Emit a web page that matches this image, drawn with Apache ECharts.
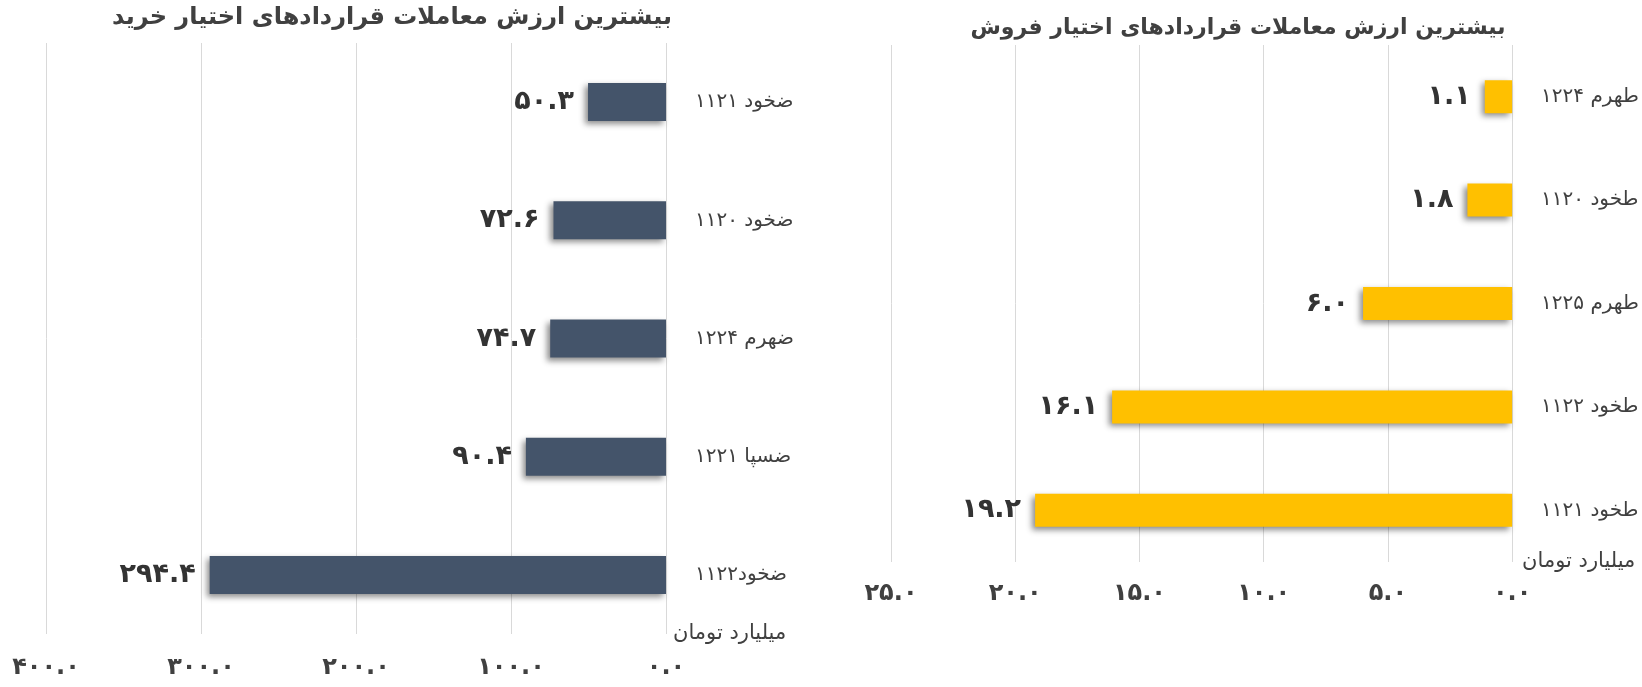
<!DOCTYPE html>
<html>
<head>
<meta charset="utf-8">
<script src="https://cdn.jsdelivr.net/npm/echarts@6/dist/echarts.min.js"></script>
<style>
  html, body { margin: 0; padding: 0; background: #fff; }
  #chart { width: 1642px; height: 687px; }
</style>
</head>
<body>
<div id="chart"></div>
<script>
// خرید (call options)
var buyTitle = 'بیشترین ارزش معاملات قراردادهای اختیار خرید';
var buyCategories = ['ضخود ۱۱۲۱', 'ضخود ۱۱۲۰', 'ضهرم ۱۲۲۴', 'ضسپا ۱۲۲۱', 'ضخود۱۱۲۲'];
var buyValues = [50.3, 72.6, 74.7, 90.4, 294.4];

// فروش (put options)
var sellTitle = 'بیشترین ارزش معاملات قراردادهای اختیار فروش';
var sellCategories = ['طهرم ۱۲۲۴', 'طخود ۱۱۲۰', 'طهرم ۱۲۲۵', 'طخود ۱۱۲۲', 'طخود ۱۱۲۱'];
var sellValues = [1.1, 1.8, 6.0, 16.1, 19.2];

var unitName = 'میلیارد تومان';

var FONT = "'DejaVu Sans', sans-serif";
var TEXT = '#404040';

function fa(n) {
  return n.toFixed(1).replace(/\d/g, function (d) { return '۰۱۲۳۴۵۶۷۸۹'[d]; });
}

var chart = echarts.init(document.getElementById('chart'));

function valueAxis(gridIndex, max, interval, nameGap, namePad, labelMargin) {
  return {
    gridIndex: gridIndex,
    type: 'value',
    inverse: true,
    min: 0,
    max: max,
    interval: interval,
    name: unitName,
    nameLocation: 'start',
    nameGap: nameGap,
    nameTextStyle: {
      fontFamily: FONT, fontSize: 21, color: TEXT,
      align: 'left', verticalAlign: 'middle', padding: [namePad, 0, 0, 0]
    },
    axisLine: { show: false },
    axisTick: { show: false },
    axisLabel: {
      margin: labelMargin,
      fontFamily: FONT, fontSize: 24, fontWeight: 'bold', color: TEXT,
      formatter: function (v) { return fa(v); }
    },
    splitLine: { lineStyle: { color: '#d9d9d9', width: 1 } }
  };
}

function catAxis(gridIndex, cats) {
  return {
    gridIndex: gridIndex,
    type: 'category',
    data: cats,
    inverse: true,
    position: 'right',
    axisLine: { show: false },
    axisTick: { show: false },
    axisLabel: {
      margin: 29,
      fontFamily: FONT, fontSize: 20, color: TEXT
    }
  };
}

function barSeries(idx, values, color, width) {
  return {
    type: 'bar',
    xAxisIndex: idx,
    yAxisIndex: idx,
    data: values,
    barWidth: width,
    itemStyle: {
      color: color,
      shadowColor: 'rgba(0,0,0,0.45)',
      shadowBlur: 6,
      shadowOffsetX: -3,
      shadowOffsetY: 3
    },
    label: {
      show: true,
      position: 'left',
      distance: 14,
      fontFamily: FONT, fontSize: 27, fontWeight: 'bold', color: '#333',
      formatter: function (p) { return fa(p.value); }
    }
  };
}

var option = {
  animation: false,
  backgroundColor: '#fff',
  textStyle: { fontFamily: FONT },
  title: [{
    text: buyTitle,
    left: 392, top: 6, textAlign: 'center', padding: 0,
    textStyle: { fontFamily: FONT, fontSize: 24, fontWeight: 'bold', color: TEXT }
  }, {
    text: sellTitle,
    left: 1238, top: 17, textAlign: 'center', padding: 0,
    textStyle: { fontFamily: FONT, fontSize: 22, fontWeight: 'bold', color: TEXT }
  }],
  grid: [
    { left: 46, right: 976, top: 43, bottom: 53, containLabel: false },
    { left: 891, right: 129, top: 45, bottom: 125, containLabel: false }
  ],
  xAxis: [
    valueAxis(0, 400, 100, 7, 28, 22),
    valueAxis(1, 25, 5, 10, 22, 20)
  ],
  yAxis: [
    catAxis(0, buyCategories),
    catAxis(1, sellCategories)
  ],
  series: [
    barSeries(0, buyValues, '#44546A', 38),
    barSeries(1, sellValues, '#FFC000', 33)
  ]
};

chart.setOption(option);
</script>
</body>
</html>
